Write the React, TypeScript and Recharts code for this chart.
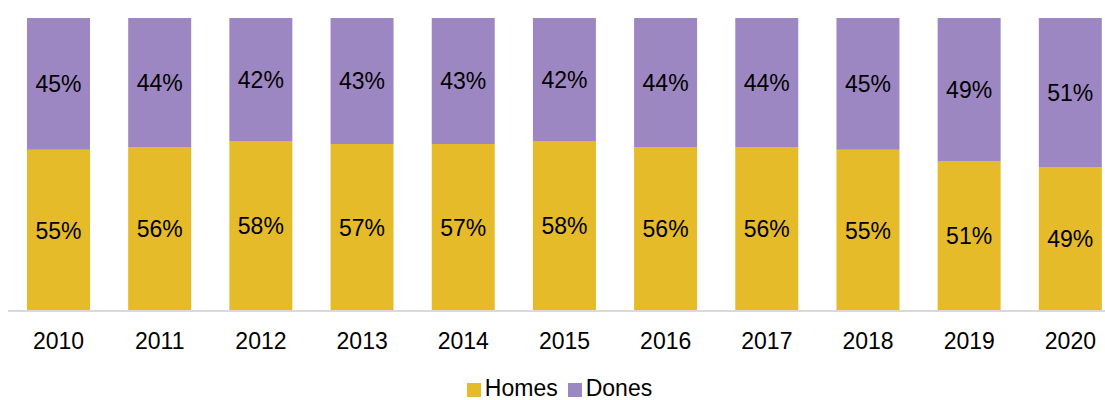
import { BarChart, Bar, XAxis, YAxis, Legend, LabelList } from 'recharts';

const YEARS = ['2010', '2011', '2012', '2013', '2014', '2015', '2016', '2017', '2018', '2019', '2020'];
const HOMES = [55, 56, 58, 57, 57, 58, 56, 56, 55, 51, 49];
const DONES = [45, 44, 42, 43, 43, 42, 44, 44, 45, 49, 51];

const data = YEARS.map((year, i) => ({ year, homes: HOMES[i], dones: DONES[i] }));

const FONT = 'Liberation Sans, Arial, sans-serif';
const SERIES_ORDER = ['homes', 'dones'];

const pct = (v: any) => `${Math.round(Number(v))}%`;

const App = () => {
  return (
    <div style={{ position: 'fixed', top: 0, left: 0, width: 1105, height: 400, overflow: 'hidden', background: '#fff' }}>
      <BarChart
        width={1121}
        height={400}
        data={data}
        margin={{ top: 18, right: 0, bottom: 0, left: 8 }}
        barSize={63}
        style={{ fontFamily: FONT }}
      >
        <YAxis hide domain={[0, 100]} />
        <XAxis
          dataKey="year"
          axisLine={{ stroke: '#d9d9d9', strokeWidth: 2 }}
          tickLine={false}
          tickSize={0}
          tickMargin={22}
          height={65}
          tick={{ fill: '#000', fontSize: 23, fontFamily: FONT }}
        />
        <Legend
          verticalAlign="bottom"
          iconType="square"
          iconSize={14}
          itemSorter={(item: any) => SERIES_ORDER.indexOf(item.dataKey)}
          wrapperStyle={{ fontSize: 23, fontFamily: FONT, lineHeight: '24px', bottom: 0 }}
          formatter={(value) => <span style={{ color: '#000' }}>{value}</span>}
        />
        <Bar dataKey="homes" name="Homes" stackId="a" fill="#e5bb29" isAnimationActive={false}>
          <LabelList dataKey="homes" position="center" formatter={pct} fill="#000" fontSize={23} fontFamily={FONT} />
        </Bar>
        <Bar dataKey="dones" name="Dones" stackId="a" fill="#9d87c2" isAnimationActive={false}>
          <LabelList dataKey="dones" position="center" formatter={pct} fill="#000" fontSize={23} fontFamily={FONT} />
        </Bar>
      </BarChart>
    </div>
  );
};

export default App;
